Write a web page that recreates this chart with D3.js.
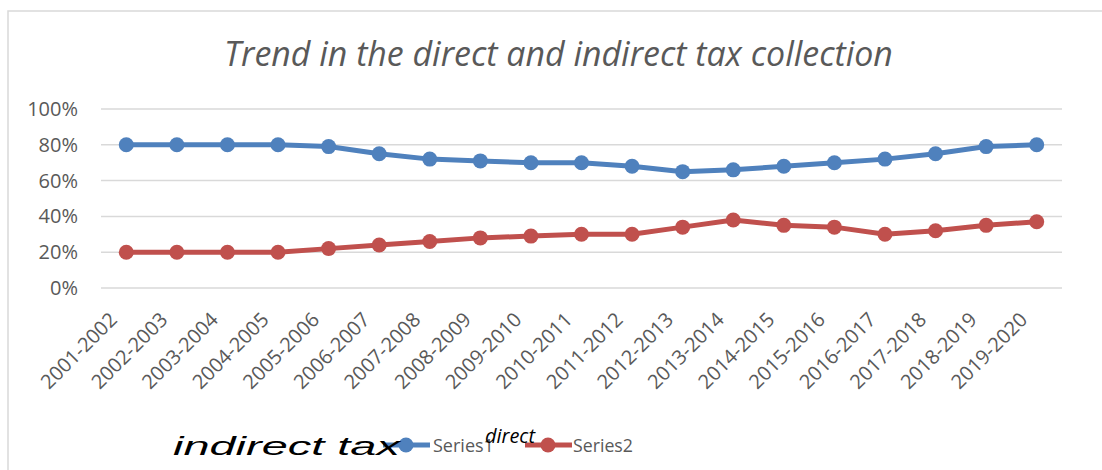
<!DOCTYPE html>
<html>
<head>
<meta charset="utf-8">
<script src="https://cdn.jsdelivr.net/npm/d3@7"></script>
<style>
  html, body { margin: 0; padding: 0; background: #fff; }
  svg { display: block; }
</style>
</head>
<body>
<svg id="chart" width="1102" height="470"></svg>
<script>
const categories = ["2001-2002","2002-2003","2003-2004","2004-2005","2005-2006","2006-2007","2007-2008","2008-2009","2009-2010","2010-2011","2011-2012","2012-2013","2013-2014","2014-2015","2015-2016","2016-2017","2017-2018","2018-2019","2019-2020"];
const series1 = [80,80,80,80,79,75,72,71,70,70,68,65,66,68,70,72,75,79,80];
const series2 = [20,20,20,20,22,24,26,28,29,30,30,34,38,35,34,30,32,35,37];
const yTicks = [0,20,40,60,80,100];
const seriesNames = ["Series1","Series2"];
const titleText = "Trend in the direct and indirect tax collection";

const svg = d3.select("#chart");
const font = "'Open Sans', 'Noto Sans', sans-serif";
const gray = "#595959";
const colors = ["#4F81BD", "#C0504D"];

// chart frame
svg.append("rect").attr("x", 8).attr("y", 11).attr("width", 1102).attr("height", 480)
  .attr("fill", "none").attr("stroke", "#D9D9D9").attr("stroke-width", 1.5);

const x = d3.scaleBand().domain(categories).range([101, 1062]);
const y = d3.scaleLinear().domain([0, 100]).range([288, 109]);

function fit(sel, w) {
  const n = sel.node();
  const fs = parseFloat(sel.attr("font-size"));
  const len = n.getComputedTextLength();
  sel.attr("font-size", fs * w / len);
}

// title
const t = svg.append("text").attr("x", 558.5).attr("y", 66).attr("text-anchor", "middle")
  .attr("font-family", font).attr("font-style", "italic").attr("font-size", 28)
  .attr("fill", gray).text(titleText);
fit(t, 669);

// gridlines
svg.append("g").selectAll("line").data(yTicks).join("line")
  .attr("x1", 101).attr("x2", 1062)
  .attr("y1", d => y(d)).attr("y2", d => y(d))
  .attr("stroke", "#D9D9D9").attr("stroke-width", 1.5);

// y axis labels
const yAxis = d3.axisLeft(y).tickValues(yTicks).tickFormat(d => d + "%").tickSize(0).tickPadding(0);
const gy = svg.append("g").attr("transform", "translate(78,0)").call(yAxis);
gy.select(".domain").remove();
gy.selectAll("text").attr("font-family", font).attr("font-size", 20).attr("fill", gray);

// x axis labels
const gx = svg.append("g");
gx.selectAll("text").data(categories).join("text")
  .attr("transform", d => `translate(${x(d) + x.bandwidth() / 2 - 8},321) rotate(-45)`)
  .attr("text-anchor", "end")
  .attr("font-family", font).attr("font-size", 20).attr("fill", gray)
  .text(d => d);

// series
const allSeries = [series1, series2];
allSeries.forEach((vals, i) => {
  const pts = vals.map((v, j) => [x(categories[j]) + x.bandwidth() / 2, y(v)]);
  const line = d3.line();
  svg.append("path").attr("d", line(pts)).attr("fill", "none")
    .attr("stroke", colors[i]).attr("stroke-width", 5).attr("stroke-linejoin", "round");
  svg.append("g").selectAll("circle").data(vals).join("circle")
    .attr("cx", (v, j) => x(categories[j]) + x.bandwidth() / 2)
    .attr("cy", v => y(v)).attr("r", 7.5).attr("fill", colors[i]);
});

// legend
const legend = svg.append("g");
const legX = [383, 525];
const legTextX = [433, 573];
seriesNames.forEach((name, i) => {
  legend.append("line").attr("x1", legX[i]).attr("x2", legX[i] + 47).attr("y1", 445).attr("y2", 445)
    .attr("stroke", colors[i]).attr("stroke-width", 5);
  legend.append("circle").attr("cx", legX[i] + 23).attr("cy", 445).attr("r", 7.5).attr("fill", colors[i]);
  const lt = legend.append("text").attr("x", legTextX[i]).attr("y", 452)
    .attr("font-family", font).attr("font-size", 18).attr("fill", gray).text(name);
  if (i === 1) fit(lt, 60);
});

// overlaid annotation texts
const ind = svg.append("text").attr("x", 0).attr("y", 0)
  .attr("font-family", "'Liberation Sans', Arial, sans-serif").attr("font-style", "italic")
  .attr("font-size", 25).attr("fill", "#000").text("indirect tax");
const indLen = ind.node().getComputedTextLength();
ind.attr("transform", `translate(173,455) scale(${227 / indLen},1)`);

const dir = svg.append("text").attr("x", 485).attr("y", 443)
  .attr("font-family", font).attr("font-style", "italic")
  .attr("font-size", 17).attr("fill", "#000").text("direct");
fit(dir, 50);
</script>
</body>
</html>
